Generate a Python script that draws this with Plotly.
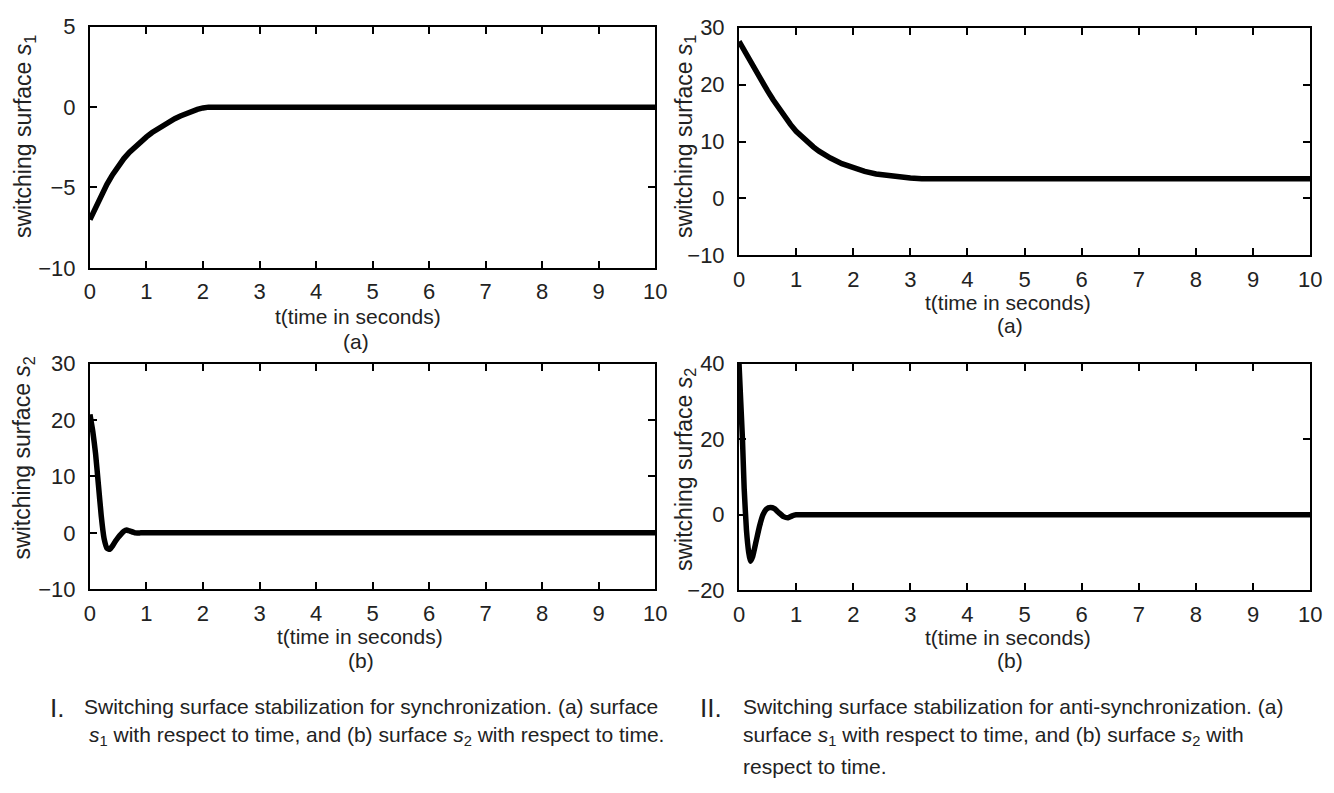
import plotly.graph_objects as go

# ---- data ----
t_sync_s1 = [0, 0.1, 0.2, 0.3, 0.4, 0.5, 0.6, 0.7, 0.8, 0.9, 1.0, 1.1, 1.2, 1.3, 1.4, 1.5, 1.6, 1.7, 1.8, 1.9, 2.0, 2.1, 10]
s1_sync = [-7, -6.2, -5.5, -4.8, -4.2, -3.65, -3.2, -2.8, -2.45, -2.13, -1.85, -1.58, -1.35, -1.12, -0.9, -0.72, -0.55, -0.4, -0.26, -0.14, -0.05, 0, 0]

t_anti_s1 = [0, 0.1, 0.2, 0.3, 0.4, 0.5, 0.6, 0.7, 0.8, 0.9, 1.0, 1.1, 1.2, 1.3, 1.4, 1.5, 1.6, 1.8, 2.0, 2.2, 2.4, 2.6, 2.8, 3.0, 3.2, 10]
s1_anti = [27.6, 25.8, 24.0, 22.2, 20.5, 18.9, 17.3, 15.8, 14.3, 13.0, 11.8, 10.8, 9.9, 9.05, 8.3, 7.65, 7.1, 6.1, 5.3, 4.75, 4.3, 4.0, 3.75, 3.57, 3.45, 3.45]

t_sync_s2 = [0, 0.05, 0.1, 0.15, 0.2, 0.25, 0.3, 0.35, 0.4, 0.45, 0.5, 0.55, 0.6, 0.65, 0.7, 0.8, 0.9, 1.2, 2, 5, 10]
s2_sync = [21, 18, 14, 8.5, 3, -1, -2.7, -2.9, -2.3, -1.5, -0.8, -0.2, 0.3, 0.5, 0.35, 0, 0, 0, 0, 0, 0]

t_anti_s2 = [0, 0.03, 0.06, 0.09, 0.13, 0.17, 0.2, 0.24, 0.3, 0.36, 0.42, 0.48, 0.55, 0.62, 0.7, 0.78, 0.86, 0.93, 1.0, 1.1, 1.4, 2, 5, 10]
s2_anti = [40, 30, 20, 7, -4, -10, -12.3, -11, -7, -3, 0, 1.5, 1.9, 1.6, 0.5, -0.5, -0.8, -0.3, 0, 0, 0, 0, 0, 0]

x_ticks = list(range(0, 11))
y_ticks_tl = [-10, -5, 0, 5]
y_ticks_tr = [-10, 0, 10, 20, 30]
y_ticks_bl = [-10, 0, 10, 20, 30]
y_ticks_br = [-20, 0, 20, 40]

x_title = "t(time in seconds)"
ylab_s1 = "switching surface <i>s</i><sub>1</sub>"
ylab_s2 = "switching surface <i>s</i><sub>2</sub>"
caption_I = ["Switching surface stabilization for synchronization. (a) surface",
             "<i>s</i><sub>1</sub> with respect to time, and (b) surface <i>s</i><sub>2</sub> with respect to time."]
caption_II = ["Switching surface stabilization for anti-synchronization. (a)",
              "surface <i>s</i><sub>1</sub> with respect to time, and (b) surface <i>s</i><sub>2</sub> with",
              "respect to time."]

# page body has an 8px margin: the figure starts at (8, 8) in the screenshot
OFF = 8
W, H = 1334 - OFF, 793 - OFF
FONT = "Liberation Sans, Arial, sans-serif"
TXT = "#222"

def px(x):
    return (x - OFF) / W

def py(y):
    return 1 - (y - OFF) / H

fig = go.Figure()
line_lin = dict(color="black", width=5.5, shape="linear")
line_spl = dict(color="black", width=5.5, shape="spline", smoothing=0.4)
fig.add_trace(go.Scatter(x=t_sync_s1, y=s1_sync, mode="lines", line=line_lin, xaxis="x", yaxis="y"))
fig.add_trace(go.Scatter(x=t_anti_s1, y=s1_anti, mode="lines", line=line_lin, xaxis="x2", yaxis="y2"))
fig.add_trace(go.Scatter(x=t_sync_s2, y=s2_sync, mode="lines", line=line_spl, xaxis="x3", yaxis="y3"))
fig.add_trace(go.Scatter(x=t_anti_s2, y=s2_anti, mode="lines", line=line_spl, xaxis="x4", yaxis="y4"))

axis_common = dict(showline=True, linecolor="black", linewidth=2, mirror="ticks",
                   ticks="inside", ticklen=7, tickwidth=2, tickcolor="black",
                   showgrid=False, zeroline=False,
                   tickfont=dict(family=FONT, size=22, color=TXT))

panels = {
    "": dict(x=(85, 658), y=(15, 264), yr=[-10, 5], yt=y_ticks_tl),
    "2": dict(x=(743, 1322), y=(16, 251), yr=[-10, 30], yt=y_ticks_tr),
    "3": dict(x=(85, 658), y=(363, 596), yr=[-10, 30], yt=y_ticks_bl),
    "4": dict(x=(743, 1322), y=(363, 597), yr=[-20, 40], yt=y_ticks_br),
}
lay = {}
for k, p in panels.items():
    lay["xaxis" + k] = dict(axis_common, domain=[px(p["x"][0]), px(p["x"][1])],
                            range=[0, 10], tickvals=x_ticks, anchor="y" + k,
                            ticklabelstandoff=3)
    lay["yaxis" + k] = dict(axis_common, domain=[py(p["y"][1]), py(p["y"][0])],
                            range=p["yr"], tickvals=p["yt"], anchor="x" + k,
                            ticklabelstandoff=8)

fig.update_layout(**lay)

ann = []
def text(x, y, s, size=21, anchor="center", angle=0):
    ann.append(dict(x=px(x), y=py(y), xref="paper", yref="paper", text=s, showarrow=False,
                    xanchor=anchor, yanchor="middle", textangle=angle,
                    font=dict(family=FONT, size=size, color=TXT)))

# x titles and sub-labels
text(357, 314, x_title)
text(355, 340, "(a)")
text(1016, 300, x_title)
text(1018, 324, "(a)")
text(359, 645, x_title)
text(360, 670, "(b)")
text(1016, 646, x_title)
text(1018, 670, "(b)")
# y titles
text(18, 128, ylab_s1, size=23, angle=-90)
text(688, 128, ylab_s1, size=23, angle=-90)
text(18, 460, ylab_s2, size=23, angle=-90)
text(688, 472, ylab_s2, size=23, angle=-90)
# captions
text(52, 719, "I.", size=26)
text(77, 717, caption_I[0], size=21, anchor="left")
text(82, 748, caption_I[1], size=21, anchor="left")
text(715, 719, "II.", size=26)
text(745, 717, caption_II[0], size=21, anchor="left")
text(745, 748, caption_II[1], size=21, anchor="left")
text(745, 779, caption_II[2], size=21, anchor="left")

fig.update_layout(annotations=ann, width=W, height=H, showlegend=False,
                  margin=dict(l=0, r=0, t=0, b=0),
                  paper_bgcolor="white", plot_bgcolor="white")

fig.write_html("out.html")
